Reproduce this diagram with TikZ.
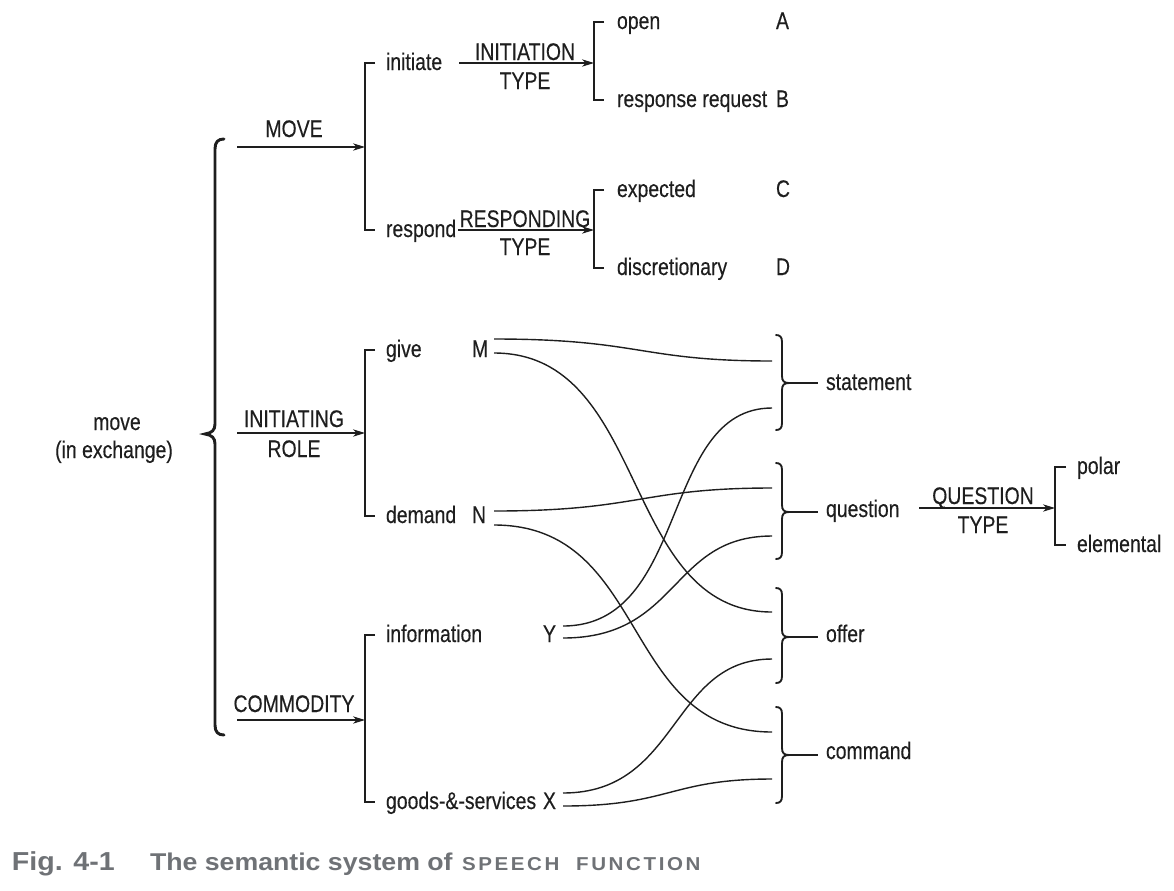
\documentclass[tikz,border=0pt]{standalone}
\usepackage{fontspec}
\setmainfont{Liberation Sans}[FakeStretch=0.81,FakeBold=0.3]
\newfontfamily\capfont{Liberation Sans}[FakeStretch=1.1,BoldFont={Liberation Sans Bold}]
\newfontfamily\scapfont{Liberation Sans}[FakeStretch=1.1,LetterSpace=14,BoldFont={Liberation Sans Bold}]
\usetikzlibrary{arrows.meta}
\definecolor{capgray}{RGB}{111,114,118}
\definecolor{ink}{RGB}{30,30,30}
\begin{document}
\begin{tikzpicture}[x=0.75pt,y=-0.75pt,
  every node/.style={inner sep=0pt,outer sep=0pt,font=\fontsize{18}{21}\selectfont,text=ink},
  lbl/.style={anchor=base west},
  clbl/.style={anchor=base},
  sysarrow/.style={draw=ink,line width=0.95pt,-{Stealth[length=9pt,width=5.5pt,inset=2.6pt]}},
  bracket/.style={draw=ink,line width=1.4pt},
  bigbrace/.style={draw=ink,line width=2.2pt,line cap=round},
  smallbrace/.style={draw=ink,line width=1.4pt,line cap=round},
  link/.style={draw=ink,line width=1.05pt}]
\useasboundingbox (0,0) rectangle (1174,890);

% ---------- left entry ----------
\node[clbl] (move) at (117,430) {move};
\node[clbl] (inex) at (114,458) {(in exchange)};
\draw[bigbrace] (224,139) .. controls (218,139) and (215,142) .. (215,149)
  -- (215,424) .. controls (215,430) and (212,433) .. (205,434)
  .. controls (212,435) and (215,438) .. (215,444)
  -- (215,725) .. controls (215,732) and (218,735) .. (224,735);

% ---------- first level arrows ----------
\coordinate (a1s) at (237,147); \coordinate (b1) at (365,147);
\coordinate (a2s) at (237,433); \coordinate (b2) at (365,433);
\coordinate (a3s) at (237,720); \coordinate (b3) at (365,720);
\draw[sysarrow] (a1s) -- (b1);
\draw[sysarrow] (a2s) -- (b2);
\draw[sysarrow] (a3s) -- (b3);
\node[clbl] (lmove) at (294,137) {MOVE};
\node[clbl] (linit) at (294,427) {INITIATING};
\node[clbl] (lrole) at (294,457) {ROLE};
\node[clbl] (lcomm) at (294,712) {COMMODITY};

% ---------- MOVE system ----------
\draw[bracket] (375,63) -- (365,63) -- (365,230) -- (375,230);
\node[lbl] (initiate) at (386,70) {initiate};
\node[lbl] (respond) at (386,237) {respond};

\coordinate (it1) at (459,63); \coordinate (it2) at (594,63);
\draw[sysarrow] (it1) -- (it2);
\node[clbl] (linitt) at (525,60) {INITIATION};
\node[clbl] (linitt2) at (525,89) {TYPE};
\draw[bracket] (604,22) -- (594,22) -- (594,100) -- (604,100);
\node[lbl] (open) at (617,29) {open};
\node[lbl] (rr) at (617,107) {response request};
\node[lbl] (A) at (776,29) {A};
\node[lbl] (B) at (776,107) {B};

\coordinate (rt1) at (458,230); \coordinate (rt2) at (594,230);
\draw[sysarrow] (rt1) -- (rt2);
\node[clbl] (lresp) at (525,227) {RESPONDING};
\node[clbl] (lresp2) at (525,255) {TYPE};
\draw[bracket] (604,190) -- (594,190) -- (594,268) -- (604,268);
\node[lbl] (expected) at (617,197) {expected};
\node[lbl] (discr) at (617,275) {discretionary};
\node[lbl] (C) at (776,197) {C};
\node[lbl] (D) at (776,275) {D};

% ---------- INITIATING ROLE system ----------
\draw[bracket] (375,350) -- (365,350) -- (365,516) -- (375,516);
\node[lbl] (give) at (386,357) {give};
\node[lbl] (demand) at (386,523) {demand};
\node[lbl] (M) at (472,357) {M};
\node[lbl] (N) at (472,523) {N};

% ---------- COMMODITY system ----------
\draw[bracket] (375,635) -- (365,635) -- (365,802) -- (375,802);
\node[lbl] (information) at (386,642) {information};
\node[lbl] (goods) at (386,809) {goods-\&-services};
\node[lbl] (Y) at (543,642) {Y};
\node[lbl] (X) at (543,809) {X};

% ---------- right braces ----------
\foreach \t/\m/\b/\nm in {335/383/430/st, 463/512/559/qu, 588/637/683/of, 707/755/803/co}{
  \draw[smallbrace] (776,\t) .. controls (780,\t) and (782,\t+2) .. (782,\t+7)
    -- (782,\m-7) .. controls (782,\m-2) and (784,\m) .. (789,\m)
    .. controls (784,\m) and (782,\m+2) .. (782,\m+7)
    -- (782,\b-7) .. controls (782,\b-2) and (780,\b) .. (776,\b);
  \coordinate (\nm cusp) at (786,\m);
  \coordinate (\nm end) at (818,\m);
  \draw[bracket] (\nm cusp) -- (\nm end);
}
\node[lbl] (statement) at (826,390) {statement};
\node[lbl] (question) at (826,517) {question};
\node[lbl] (offer) at (826,642) {offer};
\node[lbl] (command) at (826,759) {command};

% ---------- link end points ----------
\coordinate (M1) at (494,339); \coordinate (M2) at (494,353);
\coordinate (N1) at (494,511); \coordinate (N2) at (494,525);
\coordinate (Y1) at (563,626); \coordinate (Y2) at (563,638);
\coordinate (X1) at (563,793); \coordinate (X2) at (563,806);
\coordinate (st1) at (772,361); \coordinate (st2) at (772,408);
\coordinate (qu1) at (772,488); \coordinate (qu2) at (772,536);
\coordinate (of1) at (772,612); \coordinate (of2) at (772,659);
\coordinate (co1) at (772,732); \coordinate (co2) at (772,779);

\draw[link] (M1) .. controls (640,339) and (640,361) .. (st1);
\draw[link] (M2) .. controls (650,353) and (620,612) .. (of1);
\draw[link] (N1) .. controls (640,511) and (640,488) .. (qu1);
\draw[link] (N2) .. controls (650,525) and (620,732) .. (co1);
\draw[link] (Y1) .. controls (690,626) and (660,408) .. (st2);
\draw[link] (Y2) .. controls (680,638) and (670,536) .. (qu2);
\draw[link] (X1) .. controls (680,793) and (670,659) .. (of2);
\draw[link] (X2) .. controls (670,806) and (670,779) .. (co2);

% ---------- QUESTION TYPE ----------
\coordinate (qt1) at (919,508); \coordinate (qt2) at (1055,508);
\draw[sysarrow] (qt1) -- (qt2);
\node[clbl] (lq) at (983,504) {QUESTION};
\node[clbl] (lq2) at (983,533) {TYPE};
\draw[bracket] (1066,467) -- (1055,467) -- (1055,545) -- (1066,545);
\node[lbl] (polar) at (1077,474) {polar};
\node[lbl] (elemental) at (1077,552) {elemental};

% ---------- caption ----------
\node[anchor=base west,font={\capfont\bfseries\fontsize{19.5}{22}\selectfont},text=capgray] (fig) at (12,870) {Fig. 4-1};
\node[anchor=base west,font={\capfont\bfseries\fontsize{18.2}{22}\selectfont},text=capgray] (title) at (150,870) {The semantic system of};
\node[anchor=base west,font={\scapfont\bfseries\fontsize{14}{16}\selectfont},text=capgray] (sf) at (462,870) {SPEECH\ \ FUNCTION};
\end{tikzpicture}
\end{document}
